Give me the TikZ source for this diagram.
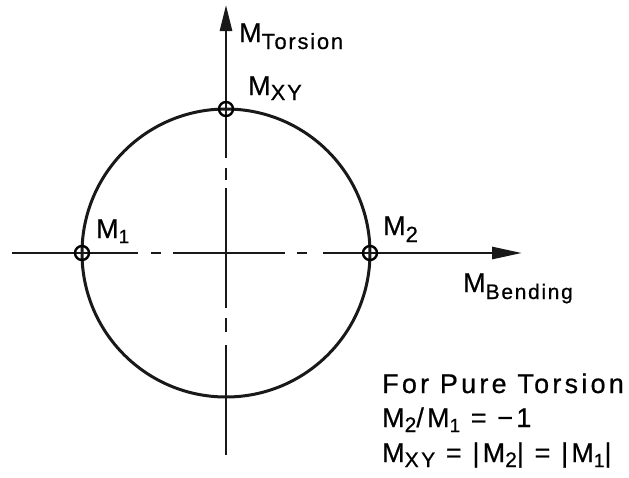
\documentclass[tikz,border=0pt]{standalone}
\usepackage{fontspec}
\setmainfont{Liberation Sans}[LetterSpace=8,FakeBold=0.6]
\usetikzlibrary{arrows.meta}
\begin{document}
\begin{tikzpicture}[x=1pt,y=-1pt,
  axisline/.style={line width=2.8pt,black!90},
  ring/.style={line width=3pt,black!90},
  marker/.style={circle,draw,line width=2.4pt,minimum size=14pt,inner sep=0pt},
  lbl/.style={anchor=base west,inner sep=0pt,font=\fontsize{27}{27}\selectfont},
  txt/.style={anchor=base west,inner sep=0pt,font=\fontsize{27}{27}\selectfont\addfontfeature{LetterSpace=12}}]
\path[use as bounding box] (0,0) rectangle (629,477);
\coordinate (O) at (226,253);
\coordinate (vtop) at (226,5);
\coordinate (vbot) at (226,455);
\coordinate (hleft) at (12,253);
\coordinate (hright) at (522,253);
% circle
\draw[ring] (O) circle[radius=144pt];
% vertical axis (dash-dot pattern)
\draw[axisline,-{Triangle[length=26pt,width=12pt]}] (226,158) -- (vtop);
\draw[axisline] (226,168) -- (226,180);
\draw[axisline] (226,188) -- (226,308);
\draw[axisline] (226,318) -- (226,332);
\draw[axisline] (226,345) -- (vbot);
% horizontal axis
\draw[axisline] (hleft) -- (138,253);
\draw[axisline] (151,253) -- (161,253);
\draw[axisline] (173,253) -- (285,253);
\draw[axisline] (297,253) -- (307,253);
\draw[axisline,-{Triangle[length=30pt,width=12pt]}] (323,253) -- (hright);
% markers
\node[marker] (m1) at (82,253) {};
\node[marker] (m2) at (370,253) {};
\node[marker] (mxy) at (226,109) {};
% labels
\node[lbl] (lt) at (239,42) {M\raisebox{-7pt}{\fontsize{22}{22}\selectfont Torsion}};
\node[lbl] (lxy) at (248,95) {M\raisebox{-5pt}{\fontsize{22}{22}\selectfont XY}};
\node[lbl] (l1) at (96,238) {M\raisebox{-5pt}{\fontsize{19}{19}\selectfont 1}};
\node[lbl] (l2) at (383,235) {M\raisebox{-7pt}{\fontsize{22}{22}\selectfont 2}};
\node[lbl] (lb) at (463,292) {M\raisebox{-7pt}{\fontsize{21}{21}\selectfont Bending}};
% text block
\node[txt] (t1) at (382,393) {For Pure Torsion};
\node[txt] (t2) at (382,427) {M\raisebox{-5pt}{\fontsize{21}{21}\selectfont 2}/M\raisebox{-5pt}{\fontsize{19}{19}\selectfont 1} = −1};
\node[txt] (t3) at (382,462) {M\raisebox{-5pt}{\fontsize{21}{21}\selectfont XY} = |M\raisebox{-5pt}{\fontsize{21}{21}\selectfont 2}| = |M\raisebox{-5pt}{\fontsize{19}{19}\selectfont 1}|};
\end{tikzpicture}
\end{document}
